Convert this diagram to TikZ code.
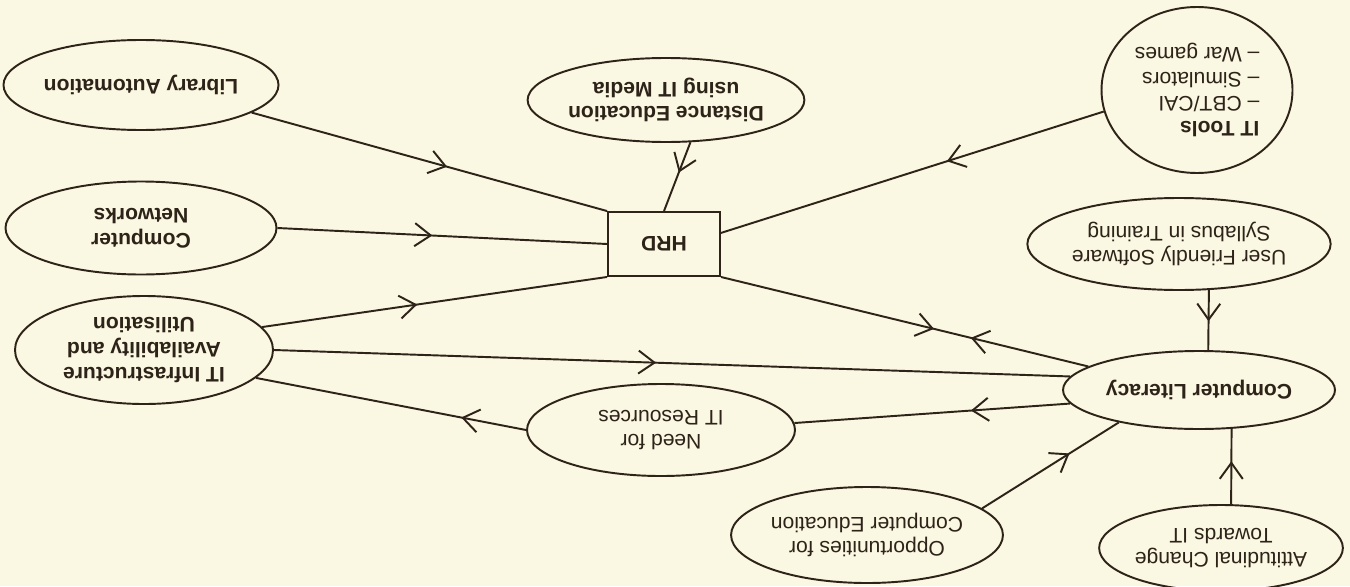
\documentclass[tikz,border=0pt]{standalone}
\usepackage{fontspec}
\setmainfont{Liberation Sans}
\usetikzlibrary{shapes.geometric,arrows.meta,decorations.markings}
\definecolor{paper}{RGB}{250,247,226}
\definecolor{ink}{RGB}{45,35,25}
\tikzset{
  bubble/.style={draw=ink, ellipse, inner sep=0pt, align=center, rotate=180},
  hrdbox/.style={draw=ink, rectangle, inner sep=0pt, rotate=180},
  midarrow/.style={postaction={decorate, decoration={markings,
      mark=at position #1 with {\arrow{Straight Barb[length=3.2mm,width=4.6mm]}}}}},
  backarrow/.style={postaction={decorate, decoration={markings,
      mark=at position #1 with {\arrowreversed{Straight Barb[length=3.2mm,width=4.6mm]}}}}},
}
\begin{document}
\begin{tikzpicture}[line width=1.1pt, draw=ink, text=ink, font=\fontsize{12}{14}\selectfont]
  \fill[paper] (0,0) rectangle (27,-11.72);
  \useasboundingbox (0,0) rectangle (27,-11.72);

  % the whole chart stands upside down
  \node[bubble, minimum width=5.44cm, minimum height=1.80cm] (lib) at (2.82,-1.70) {\textbf{Library Automation}};
  \node[bubble, minimum width=5.42cm, minimum height=1.86cm] (net) at (2.82,-4.56) {\textbf{Computer}\\\textbf{Networks}};
  \node[bubble, minimum width=5.16cm, minimum height=2.16cm] (infra) at (2.88,-7.00) {\textbf{IT Infrastructure}\\\textbf{Availability and}\\\textbf{Utilisation}};
  \node[bubble, minimum width=5.36cm, minimum height=1.68cm] (dist) at (13.32,-2.00) {\textbf{Distance Education}\\\textbf{using IT Media}};
  \node[hrdbox, minimum width=2.24cm, minimum height=1.28cm] (hrd) at (13.28,-4.88) {\textbf{HRD}};
  \node[bubble, minimum width=3.82cm, minimum height=3.32cm, align=left] (tools) at (23.94,-1.80) {\textbf{IT Tools}\\-- CBT/CAI\\-- Simulators\\-- War games};
  \node[bubble, minimum width=6.04cm, minimum height=1.84cm] (soft) at (23.58,-4.88) {User Friendly Software\\Syllabus in Training};
  \node[bubble, minimum width=5.44cm, minimum height=1.56cm] (lit) at (23.98,-7.80) {\textbf{Computer Literacy}};
  \node[bubble, minimum width=5.36cm, minimum height=1.84cm] (need) at (13.22,-8.60) {Need for\\IT Resources};
  \node[bubble, minimum width=5.36cm, minimum height=1.92cm] (opp) at (17.34,-10.70) {Opportunities for\\Computer Education};
  \node[bubble, minimum width=4.62cm, minimum height=1.72cm] (att) at (24.42,-10.96) {Attitudinal Change\\Towards IT};

  % links
  \draw[midarrow=0.55] (lib.166) -- (hrd.south east);
  \draw[midarrow=0.47] (net.180) -- (hrd.east);
  \draw[midarrow=0.45] (infra.191) -- (hrd.north east);
  \draw[midarrow=0.48] (infra.180) -- (lit.354);
  \draw[midarrow=0.24] (need.0) -- (infra.166);
  \draw[midarrow=0.36] (lit.6) -- (need.183);
  \draw[midarrow=0.58, backarrow=0.68] (hrd.north west) -- (lit.348);
  \draw[midarrow=0.41] (tools.13) -- (hrd.191);
  \draw[midarrow=0.44] (dist.120) -- (hrd.south);
  \draw[midarrow=0.52] (soft.123) -- (lit.257);
  \draw[midarrow=0.57] (att.257) -- (lit.130);
  \draw[midarrow=0.64] (opp.193) -- (lit.22);
\end{tikzpicture}
\end{document}
